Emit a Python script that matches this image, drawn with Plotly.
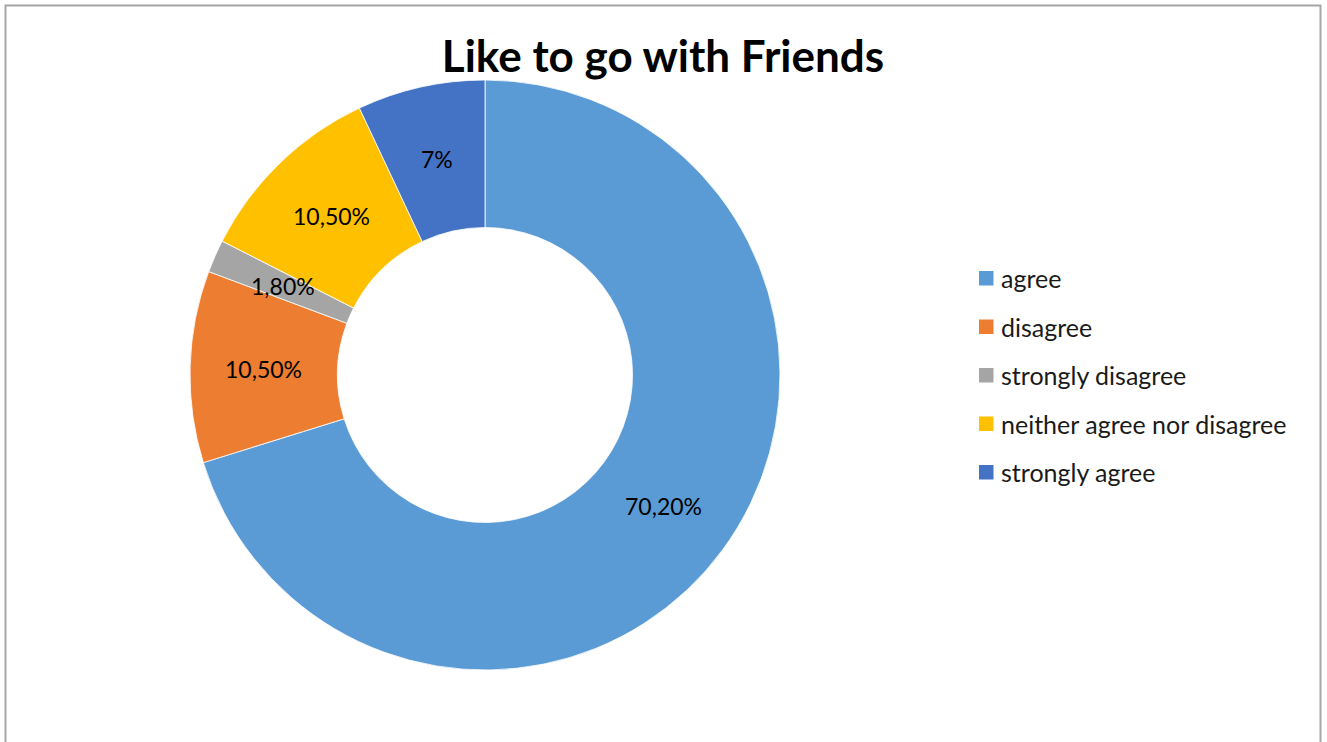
import math
import plotly.graph_objects as go

# Survey responses for "Like to go with Friends"
categories = ["agree", "disagree", "strongly disagree", "neither agree nor disagree", "strongly agree"]
shares = [70.2, 10.5, 1.8, 10.5, 7.0]
share_labels = ["70,20%", "10,50%", "1,80%", "10,50%", "7%"]
colors = ["#5B9BD5", "#ED7D31", "#A5A5A5", "#FFC000", "#4472C4"]

W, H = 1327, 742
FONT = "Lato, 'Open Sans', sans-serif"

# Donut geometry in pixels (converted to paper fractions below)
cx, cy, r_out = 485, 375, 295
hole = 0.5

fig = go.Figure(
    go.Pie(
        labels=categories,
        values=shares,
        text=share_labels,
        textinfo="none",
        marker=dict(colors=colors, line=dict(color="white", width=0.8)),
        hole=hole,
        sort=False,
        direction="clockwise",
        rotation=0,
        showlegend=False,
        hoverinfo="label+percent",
        domain=dict(
            x=[(cx - r_out) / W, (cx + r_out) / W],
            y=[1 - (cy + r_out) / H, 1 - (cy - r_out) / H],
        ),
    )
)

annotations = []

# Data labels centred in the ring, at each slice's middle angle
r_mid = r_out * (1 + hole) / 2
total = sum(shares)
cum = 0.0
for v, lab in zip(shares, share_labels):
    ang = 2 * math.pi * (cum + v / 2) / total  # clockwise from 12 o'clock
    cum += v
    px = cx + r_mid * math.sin(ang)
    py = cy - r_mid * math.cos(ang)
    annotations.append(dict(
        x=px / W, y=1 - py / H, xref="paper", yref="paper",
        text=lab, showarrow=False, xanchor="center", yanchor="middle",
        font=dict(family=FONT, size=23, color="black"),
    ))

# Legend drawn as square swatches with labels
legend_x, legend_y0, legend_dy = 986, 278, 48.5
shapes = []
for i, (name, col) in enumerate(zip(categories, colors)):
    y = legend_y0 + i * legend_dy
    shapes.append(dict(
        type="rect", xref="paper", yref="paper",
        x0=(legend_x - 7) / W, x1=(legend_x + 7.5) / W,
        y0=1 - (y + 7.5) / H, y1=1 - (y - 7) / H,
        fillcolor=col, line=dict(width=0),
    ))
    annotations.append(dict(
        x=(legend_x + 13) / W, y=1 - y / H, xref="paper", yref="paper",
        text=name, showarrow=False, xanchor="left", yanchor="middle",
        font=dict(family=FONT, size=25, color="#1a1a1a"),
    ))

# Chart area border
shapes.append(dict(
    type="rect", xref="paper", yref="paper",
    x0=5.5 / W, x1=1320.5 / W, y0=-0.05, y1=1 - 5.5 / H,
    line=dict(color="#A6A6A6", width=2), fillcolor="rgba(0,0,0,0)",
))

fig.update_layout(
    width=W, height=H,
    margin=dict(l=0, r=0, t=0, b=0),
    paper_bgcolor="white",
    plot_bgcolor="white",
    title=dict(
        text="<b>Like to go with Friends</b>",
        x=663 / W, xanchor="center",
        y=1 - 57 / H, yanchor="middle",
        font=dict(family=FONT, size=44, color="black"),
    ),
    shapes=shapes,
    annotations=annotations,
)

fig.write_html("out.html")
